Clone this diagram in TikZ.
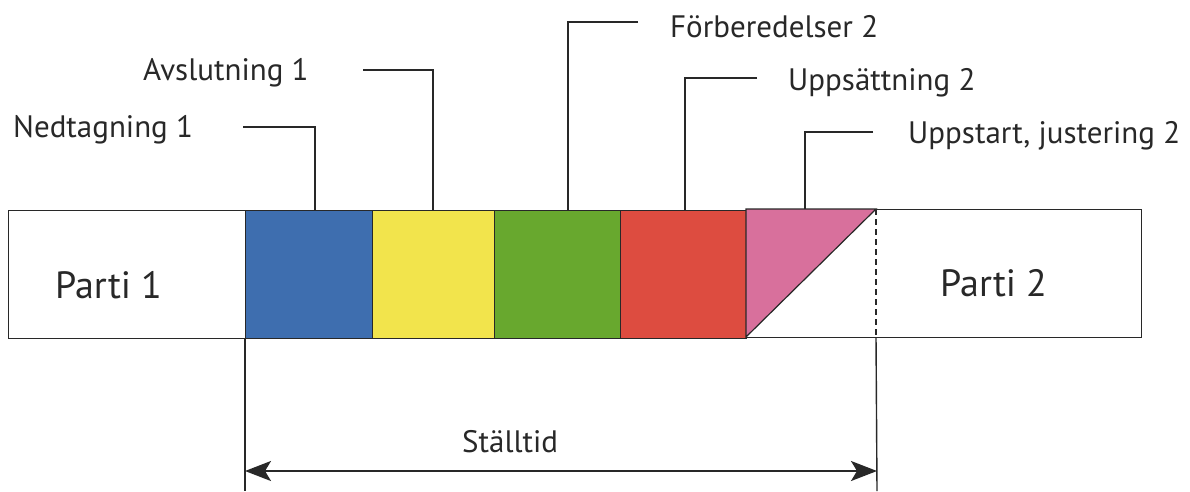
\documentclass[tikz,border=0pt]{standalone}
\usepackage{fontspec}
\setmainfont{PT Sans}
\usetikzlibrary{arrows.meta}
\definecolor{cblue}{RGB}{62,110,175}
\definecolor{cyellow}{RGB}{242,228,76}
\definecolor{cgreen}{RGB}{104,168,46}
\definecolor{cred}{RGB}{221,76,64}
\definecolor{cpink}{RGB}{216,112,156}
\definecolor{ink}{RGB}{40,40,40}
\tikzset{
  blk/.style={draw=ink, line width=1.4pt, inner sep=0pt, minimum height=128pt, anchor=north west},
  lbl/.style={font=\fontsize{31}{34}\selectfont, text=ink, inner sep=0pt, anchor=base west},
  big/.style={font=\fontsize{38}{42}\selectfont, text=ink, inner sep=0pt, anchor=base west},
  lead/.style={draw=ink, line width=1.4pt},
  dimline/.style={draw=ink, line width=2pt,
    {Stealth[length=26pt,width=20pt,inset=6pt]}-{Stealth[length=26pt,width=20pt,inset=6pt]}},
}
\begin{document}
\begin{tikzpicture}[x=1pt,y=-1pt]
\useasboundingbox (0,0) rectangle (1190,491);
\fill[white] (0,0) rectangle (1190,491);
% bar
\node[blk, minimum width=237pt, fill=white] (p1) at (8,210) {};
\node[blk, minimum width=395pt, fill=white] (p2) at (746,209) {};
\node[blk, minimum width=127pt, fill=cblue] (b1) at (245,210) {};
\node[blk, minimum width=122pt, fill=cyellow] (b2) at (372,210) {};
\node[blk, minimum width=126pt, fill=cgreen] (b3) at (494,210) {};
\node[blk, minimum width=126pt, fill=cred] (b4) at (620,210) {};
\coordinate (t1) at (746,209);
\coordinate (t2) at (876,209);
\coordinate (t3) at (746,337);
\filldraw[fill=cpink, draw=ink, line width=1.2pt] (t1) -- (t2) -- (t3) -- cycle;
\coordinate (d1) at (876,209);
\coordinate (d2) at (876,337);
\draw[ink, line width=1.3pt, dash pattern=on 6pt off 4pt] (d1) -- (d2);
\node[big] (tp1) at (55,298) {Parti 1};
\node[big] (tp2) at (940,296) {Parti 2};
% labels
\node[lbl] (l1) at (13,137) {Nedtagning 1};
\node[lbl] (l2) at (143,80) {Avslutning 1};
\node[lbl] (l3) at (670,37) {Förberedelser 2};
\node[lbl] (l4) at (788,90) {Uppsättning 2};
\node[lbl] (l5) at (908,143) {Uppstart, justering 2};
\coordinate (s1) at (243,127); \coordinate (e1) at (315,210);
\coordinate (s2) at (363,70);  \coordinate (e2) at (433,210);
\coordinate (s3) at (638,22);  \coordinate (e3) at (568,210);
\coordinate (s4) at (757,78);  \coordinate (e4) at (685,210);
\coordinate (s5) at (873,132); \coordinate (e5) at (805,209);
\draw[lead] (s1) -| (e1);
\draw[lead] (s2) -| (e2);
\draw[lead] (s3) -| (e3);
\draw[lead] (s4) -| (e4);
\draw[lead] (s5) -| (e5);
% dimension
\coordinate (v1) at (245,491);
\coordinate (v2) at (877,491);
\draw[lead] (b1.south west) -- (v1);
\draw[lead] (d2) -- (v2);
\coordinate (a1) at (245,471);
\coordinate (a2) at (877,471);
\draw[dimline] (a1) -- (a2);
\node[lbl] (st) at (462,452) {Ställtid};
\end{tikzpicture}
\end{document}
